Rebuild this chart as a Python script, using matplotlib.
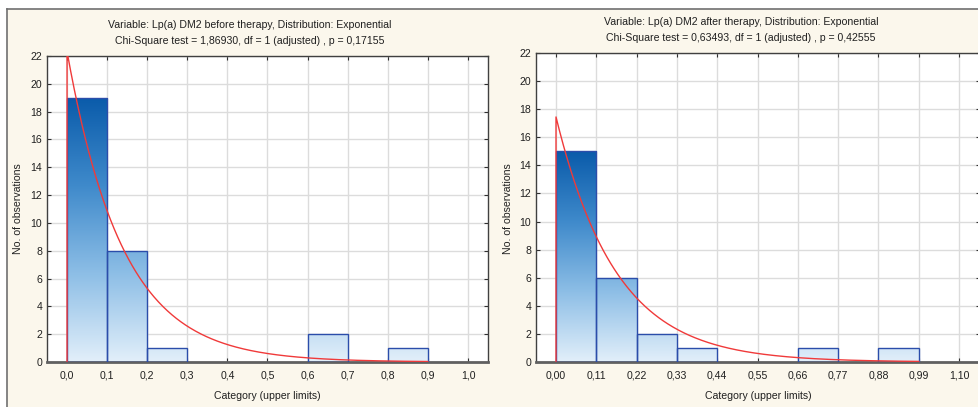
import numpy as np
import matplotlib
matplotlib.use("Agg")
import matplotlib.pyplot as plt
from matplotlib.colors import LinearSegmentedColormap
from matplotlib.lines import Line2D

# ---------------- data ----------------
left_title = ["Variable: Lp(a) DM2 before therapy, Distribution: Exponential",
              "Chi-Square test = 1,86930, df = 1 (adjusted) , p = 0,17155"]
right_title = ["Variable: Lp(a) DM2 after therapy, Distribution: Exponential",
               "Chi-Square test = 0,63493, df = 1 (adjusted) , p = 0,42555"]

left_edges = [0.0, 0.1, 0.2, 0.3, 0.4, 0.5, 0.6, 0.7, 0.8, 0.9]
left_counts = [19, 8, 1, 0, 0, 0, 2, 0, 1]
left_ticks = [0.0, 0.1, 0.2, 0.3, 0.4, 0.5, 0.6, 0.7, 0.8, 0.9, 1.0]
left_ticklabels = ["0,0", "0,1", "0,2", "0,3", "0,4", "0,5", "0,6", "0,7", "0,8", "0,9", "1,0"]
left_rate = 7.2          # fitted exponential rate

right_edges = [0.0, 0.11, 0.22, 0.33, 0.44, 0.55, 0.66, 0.77, 0.88, 0.99]
right_counts = [15, 6, 2, 1, 0, 0, 1, 0, 1]
right_ticks = [0.0, 0.11, 0.22, 0.33, 0.44, 0.55, 0.66, 0.77, 0.88, 0.99, 1.10]
right_ticklabels = ["0,00", "0,11", "0,22", "0,33", "0,44", "0,55", "0,66", "0,77", "0,88", "0,99", "1,10"]
right_rate = 6.1

y_ticks = list(range(0, 23, 2))
xlabel = "Category (upper limits)"
ylabel = "No. of observations"

# ---------------- style ----------------
W, H = 979, 407
BG = "#FBF7EC"
plt.rcParams['font.family'] = ['Liberation Sans', 'DejaVu Sans']
FS = 7.6

fig = plt.figure(figsize=(W / 100, H / 100), dpi=100, facecolor="white")

# beige panel background with border (top & left)
fig.patches.append(plt.Rectangle((7 / W, 0), 1, (H - 9) / H, transform=fig.transFigure,
                                 facecolor=BG, edgecolor="none", zorder=-10))
fig.lines.append(Line2D([7 / W, 1], [(H - 9) / H, (H - 9) / H], transform=fig.transFigure,
                        color="#707070", lw=1.2))
fig.lines.append(Line2D([7 / W, 7 / W], [0, (H - 9) / H], transform=fig.transFigure,
                        color="#707070", lw=1.2))

cmap = LinearSegmentedColormap.from_list("bars", ["#E2EFFA", "#8DBEE6", "#3F8ACB", "#0A5BAA"])


def panel(rect, edges, counts, ticks, ticklabels, rate, xlim, titles, title_x, title_y, ylab_x):
    ax = fig.add_axes(rect)
    ax.set_facecolor("white")
    ax.set_xlim(*xlim)
    ax.set_ylim(0, 22)
    edges = np.asarray(edges)
    counts = np.asarray(counts, dtype=float)
    widths = np.diff(edges)
    bars = ax.bar(edges[:-1], counts, width=widths, align="edge",
                  facecolor="none", edgecolor="#2B4DAA", linewidth=1.0, zorder=3)
    grad = np.linspace(0, 1, 256).reshape(-1, 1)
    top = counts.max()
    for b, c in zip(bars, counts):
        if c <= 0:
            b.set_visible(False)
            continue
        im = ax.imshow(grad, cmap=cmap, origin="lower", aspect="auto",
                       extent=[xlim[0], xlim[1], 0, top], zorder=2, interpolation="bilinear")
        im.set_clip_path(b)
    # fitted exponential curve
    n = counts.sum()
    w = widths[0]
    xs = np.linspace(0, edges[-1], 400)
    ys = n * w * rate * np.exp(-rate * xs)
    ax.plot(np.r_[0, xs], np.r_[0, ys], color="#F03A3A", lw=1.0, zorder=4)

    ax.set_xticks(ticks)
    ax.set_xticklabels(ticklabels)
    ax.set_yticks(y_ticks)
    ax.grid(True, color="#DCDCDC", lw=1.0, zorder=0)
    ax.set_axisbelow(True)
    ax.tick_params(axis="both", labelsize=FS, colors="#303030", length=3, width=0.8)
    ax.tick_params(axis="x", pad=6)
    ax.tick_params(top=True, right=True, direction="in", which="both")
    ax.tick_params(left=True, bottom=True)
    for lbl in ax.get_xticklabels() + ax.get_yticklabels():
        lbl.set_color("#202020")
    for s in ["left", "top", "right"]:
        ax.spines[s].set_color("#404040")
        ax.spines[s].set_linewidth(1.0)
    ax.spines["bottom"].set_color("#606060")
    ax.spines["bottom"].set_linewidth(2.0)
    ax.set_xlabel(xlabel, fontsize=FS, color="#202020", labelpad=8)
    fig.text(ylab_x / W, 1 - 209 / H, ylabel, rotation=90, fontsize=FS, color="#202020",
             ha="center", va="center")
    fig.text(title_x / W, 1 - title_y[0] / H, titles[0], ha="center", va="center",
             fontsize=FS, color="#202020")
    fig.text(title_x / W, 1 - title_y[1] / H, titles[1], ha="center", va="center",
             fontsize=FS, color="#202020")
    return ax


panel([47 / W, (H - 362) / H, (488 - 47) / W, (362 - 56) / H],
      left_edges, left_counts, left_ticks, left_ticklabels, left_rate, (-0.05, 1.05),
      left_title, 250, (25, 41), 18)
panel([536 / W, (H - 362) / H, (980 - 536) / W, (362 - 53) / H],
      right_edges, right_counts, right_ticks, right_ticklabels, right_rate, (-0.0546, 1.157),
      right_title, 741, (22, 38), 508)

fig.savefig("out.png", dpi=100, facecolor="white")
